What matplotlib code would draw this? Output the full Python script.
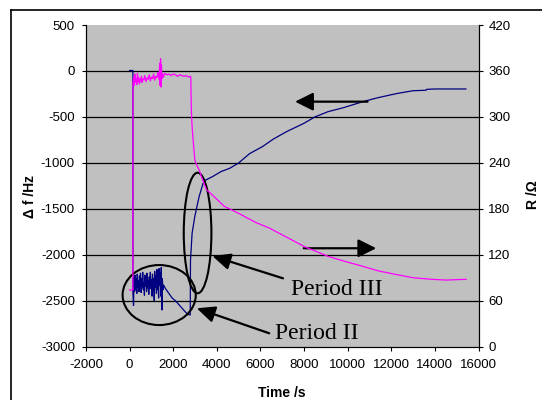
import matplotlib
matplotlib.use("Agg")
from matplotlib import pyplot as plt
from matplotlib.patches import Ellipse
from matplotlib.lines import Line2D

# Δf (левая ось), синяя кривая
df_t = [0, 150, 152,
        180, 200, 230, 250, 280, 300, 330, 350, 380, 400, 430, 450, 480, 500,
        530, 550, 580, 600, 630, 650, 680, 700, 730, 750, 780, 800, 830, 850,
        880, 900, 930, 950, 980, 1000, 1030, 1050, 1080, 1100, 1130, 1150,
        1180, 1200, 1230, 1250, 1280, 1300, 1330, 1350, 1380, 1400, 1430,
        1450, 1480, 1500, 1530, 1560,
        1650, 1800, 1950, 2100, 2250, 2400, 2550, 2650, 2780,
        2792, 2866, 2989, 3186, 3370, 3492, 3800, 4191, 4590, 4983, 5500,
        6091, 6600, 7200, 7990, 8500, 9100, 9800, 10685, 11400, 12268,
        13000, 13590, 13620, 14000, 15420]
df_val = [5, 5, -2420,
          -2550, -2250, -2400, -2220, -2380, -2260, -2420, -2210, -2350, -2280,
          -2400, -2230, -2330, -2200, -2410, -2260, -2350, -2190, -2380, -2300,
          -2440, -2220, -2340, -2250, -2400, -2200, -2360, -2280, -2430, -2240,
          -2370, -2190, -2330, -2270, -2450, -2210, -2380, -2260, -2500, -2180,
          -2350, -2230, -2420, -2160, -2380, -2240, -2470, -2150, -2330, -2200,
          -2450, -2140, -2600, -2260, -2380, -2330,
          -2370, -2420, -2470, -2500, -2540, -2580, -2620, -2645, -2655,
          -2057, -1766, -1585, -1368, -1222, -1186, -1150, -1095, -1059,
          -1004, -900, -823, -740, -660, -570, -500, -443, -400, -335, -290,
          -245, -215, -210, -200, -196, -196]

# R (правая ось), пурпурная кривая
r_t = [0, 150, 152,
       180, 210, 240, 270, 300, 330, 360, 390, 420, 450, 480, 510, 540, 570,
       600, 650, 700, 750, 800, 850, 900, 950, 1000, 1050, 1100, 1150, 1200,
       1250, 1300, 1350, 1380, 1400, 1420, 1440, 1460, 1480, 1500, 1550,
       1600, 1700, 1800, 1900, 2000, 2100, 2200, 2300, 2400, 2500, 2600,
       2700, 2790, 2805,
       2830, 2860, 2912, 2989, 3066, 3200, 3295, 3524, 3800, 4350, 4590,
       5140, 5800, 6400, 7200, 7600, 7990, 8500, 9100, 9800, 10685, 11400,
       12268, 13000, 13852, 14500, 15434]
r_val = [74, 74, 343,
         352, 341, 356, 345, 350, 342, 357, 346, 351, 343, 349, 347, 353, 345,
         350, 348, 354, 346, 351, 349, 355, 347, 352, 350, 356, 348, 353,
         351, 358, 349, 370, 341, 376, 339, 368, 350, 356, 352,
         357, 355, 356, 354, 356, 355, 353, 355, 354, 353, 354,
         352, 353, 352,
         310, 290, 270, 244, 238, 230, 222, 205, 198, 183, 180,
         172, 162, 155, 143, 137, 131, 125, 118, 112, 105, 99,
         94, 90, 88, 87, 88]

x_ticks = [-2000, 0, 2000, 4000, 6000, 8000, 10000, 12000, 14000, 16000]
df_ticks = [-3000, -2500, -2000, -1500, -1000, -500, 0, 500]
r_ticks = [0, 60, 120, 180, 240, 300, 360, 420]

plt.rcParams['font.family'] = ['Liberation Sans', 'DejaVu Sans']
plt.rcParams['axes.unicode_minus'] = False

fig = plt.figure(figsize=(5.42, 4.0), dpi=100)
ax = fig.add_axes([86 / 542, 1 - 346.7 / 400, (478.5 - 86) / 542, (346.7 - 25) / 400])
ax.set_facecolor('#C0C0C0')
ax.set_xlim(-2000, 16000)
ax.set_ylim(-3000, 500)
ax.set_xticks(x_ticks)
ax.set_yticks(df_ticks)
for v in df_ticks[1:-1]:
    ax.axhline(v, color='black', lw=0.9, zorder=1)

ax.plot(df_t, df_val, color='#000080', lw=0.9, zorder=3)

ax2 = ax.twinx()
ax2.set_ylim(0, 420)
ax2.set_yticks(r_ticks)
ax2.plot(r_t, r_val, color='#FF00FF', lw=0.9)

for a in (ax, ax2):
    a.spines['top'].set_visible(False)
    a.tick_params(direction='out', length=3, width=0.8, labelsize=9.5, colors='black')
ax.tick_params(axis='x', pad=6)
ax.tick_params(axis='y', pad=5)
ax2.tick_params(axis='y', pad=4)

# эллипсы и стрелки
ax.add_patch(Ellipse((1356, -2438), 3355, 653, fill=False, ec='black', lw=1.5, zorder=5))
ax.add_patch(Ellipse((3117, -1763), 1268, 1312, fill=False, ec='black', lw=1.5, zorder=5))

big = dict(arrowstyle='-|>,head_length=1.1,head_width=0.55', color='black', lw=1.6,
           shrinkA=0, shrinkB=0, mutation_scale=10)
ax.annotate('', xy=(7588, -334), xytext=(10911, -334), arrowprops=big, zorder=6)
ax.annotate('', xy=(11309, -1929), xytext=(7986, -1929), arrowprops=big, zorder=6)

small = dict(arrowstyle='-|>,head_length=1.1,head_width=0.5', color='black', lw=1.6,
             shrinkA=0, shrinkB=0, mutation_scale=10)
ax.annotate('', xy=(3794, -2013), xytext=(7034, -2256), arrowprops=small, zorder=6)
ax.annotate('', xy=(3080, -2582), xytext=(6403, -2854), arrowprops=small, zorder=6)

ax.text(7414, -2438, 'Period III', family=['Liberation Serif', 'DejaVu Serif'],
        fontsize=17, va='baseline', ha='left', zorder=7)
ax.text(6650, -2916, 'Period II', family=['Liberation Serif', 'DejaVu Serif'],
        fontsize=17, va='baseline', ha='left', zorder=7)

fig.text(30 / 542, 1 - 196 / 400, 'Δ f /Hz', rotation=90, fontsize=10,
         fontweight='bold', ha='center', va='center')
fig.text(533 / 542, 1 - 195 / 400, 'R /Ω', rotation=90, fontsize=10,
         fontweight='bold', ha='center', va='center')
fig.text(282 / 542, 1 - 386 / 400, 'Time /s', fontsize=10,
         fontweight='bold', ha='center', va='top')

# рамка вокруг диаграммы
fig.add_artist(Line2D([11 / 542, 1.01], [0.975, 0.975], color='black', lw=1.2,
                      transform=fig.transFigure))
fig.add_artist(Line2D([11 / 542, 11 / 542], [0.975, -0.01], color='black', lw=1.2,
                      transform=fig.transFigure))

fig.savefig('out.png', dpi=100)
